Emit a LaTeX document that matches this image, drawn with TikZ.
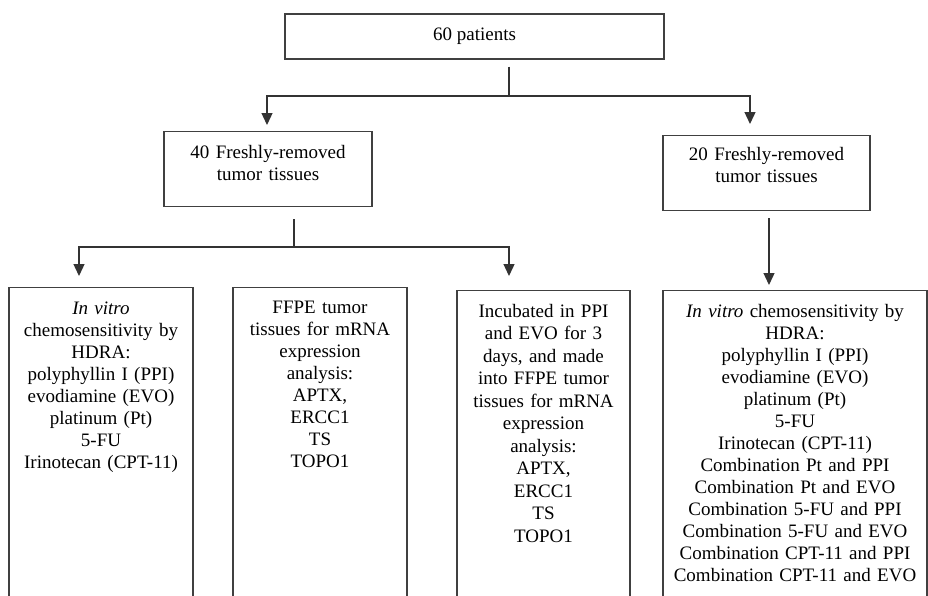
\documentclass[tikz,border=0pt]{standalone}
\usepackage{fontspec}
\setmainfont{Liberation Serif}
\usetikzlibrary{positioning, arrows.meta, calc}

\begin{document}
\begin{tikzpicture}[x=1pt, y=-1pt,
    caixa/.style={draw=black!75, line width=1.3pt, inner sep=0pt, align=center,
      font=\fontsize{19}{22}\selectfont},
    linha/.style={draw=black!80, line width=1.3pt},
    seta/.style={linha, -{Triangle[width=11pt, length=12pt]}}]
    % Area visivel da figura
    \clip (0,0) rectangle (928,595);
    % Pacientes
    \node[caixa, minimum width=379pt, minimum height=45pt] (pacientes) at (474.5,36.5) {60 patients};
    % Tecidos removidos
    \node[caixa, anchor=north, text width=208pt, text height=27pt, text depth=48pt] (tecidos40) at (268,131) {40 Freshly-removed\\tumor tissues};
    \node[caixa, anchor=north, text width=207pt, text height=25pt, text depth=50pt] (tecidos20) at (766.5,135) {20 Freshly-removed\\tumor tissues};
    % Ensaios (caixas abertas embaixo)
    \node[caixa, anchor=north, text width=184pt, text height=26.5pt, text depth=290pt] (hdra) at (101,287)
      {\textit{In vitro}\\chemosensitivity by\\HDRA:\\polyphyllin I (PPI)\\evodiamine (EVO)\\platinum (Pt)\\5-FU\\Irinotecan (CPT-11)};
    \node[caixa, anchor=north, text width=174pt, text height=26pt, text depth=290pt] (ffpe) at (320,287)
      {FFPE tumor\\tissues for mRNA\\expression\\analysis:\\APTX,\\ERCC1\\TS\\TOPO1};
    \node[caixa, anchor=north, text width=173pt, text height=26.5pt, text depth=290pt,
      font=\fontsize{19}{22.5}\selectfont] (incubado) at (543.5,290)
      {Incubated in PPI\\and EVO for 3\\days, and made\\into FFPE tumor\\tissues for mRNA\\expression\\analysis:\\APTX,\\ERCC1\\TS\\TOPO1};
    \node[caixa, anchor=north, text width=264pt, text height=26.5pt, text depth=290pt] (combinacao) at (795,290)
      {\textit{In vitro} chemosensitivity by\\HDRA:\\polyphyllin I (PPI)\\evodiamine (EVO)\\platinum (Pt)\\5-FU\\Irinotecan (CPT-11)\\Combination Pt and PPI\\Combination Pt and EVO\\Combination 5-FU and PPI\\Combination 5-FU and EVO\\Combination CPT-11 and PPI\\Combination CPT-11 and EVO};
    % Pontos de divisao
    \coordinate (garfo1) at (509,96);
    \coordinate (garfo2) at (294,247);
    % Setas
    \draw[linha] ([yshift=-7pt]pacientes.south -| garfo1) -- (garfo1);
    \draw[seta] (garfo1) -| ([xshift=-1pt, yshift=6pt]tecidos40.north);
    \draw[seta] (garfo1) -| ([xshift=-16.5pt, yshift=11pt]tecidos20.north);
    \draw[linha] ([yshift=-12pt]tecidos40.south -| garfo2) -- (garfo2);
    \draw[seta] (garfo2) -| ([xshift=-22pt, yshift=11pt]hdra.north);
    \draw[seta] (garfo2) -| ([xshift=-34.5pt, yshift=14pt]incubado.north);
    \draw[seta] ([xshift=2.5pt, yshift=-7pt]tecidos20.south) -- ([xshift=2.5pt, yshift=5pt]tecidos20.south |- combinacao.north);
  \end{tikzpicture}
\end{document}
